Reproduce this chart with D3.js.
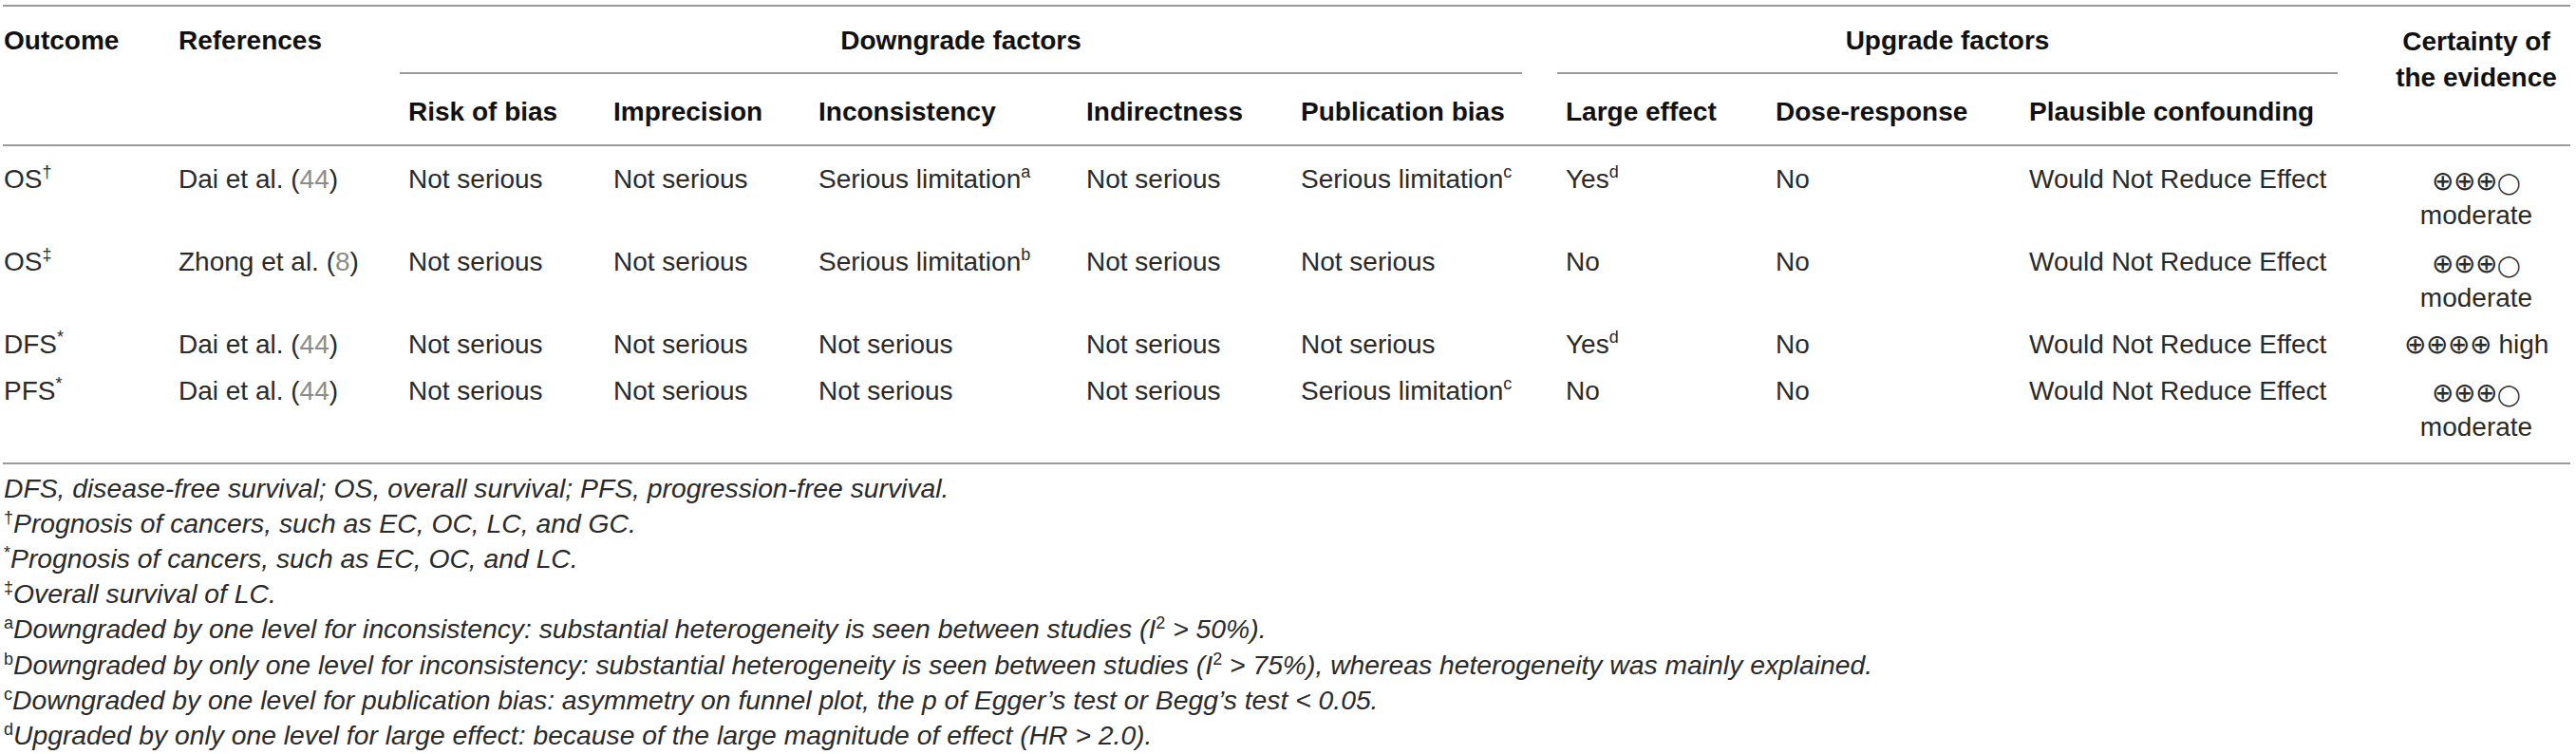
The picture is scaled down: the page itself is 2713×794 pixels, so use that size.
<!DOCTYPE html>
<html>
<head>
<meta charset="utf-8">
<script src="https://cdn.jsdelivr.net/npm/d3@7"></script>
<style>
  body { margin: 0; background: #fff; }
  svg text { font-family: "Liberation Sans", Arial, Helvetica, sans-serif; }
</style>
</head>
<body>
<svg id="table"></svg>
<script>
// table content
const groupHeaders = ["Downgrade factors", "Upgrade factors"];
const subHeaders = ["Risk of bias", "Imprecision", "Inconsistency", "Indirectness", "Publication bias",
  "Large effect", "Dose-response", "Plausible confounding"];
const outcomes = ["OS", "OS", "DFS", "PFS"];
const outcomeMarks = ["†", "‡", "*", "*"];
const references = ["Dai et al.", "Zhong et al.", "Dai et al.", "Dai et al."];
const refNumbers = ["44", "8", "44", "44"];
const riskOfBias = ["Not serious", "Not serious", "Not serious", "Not serious"];
const imprecision = ["Not serious", "Not serious", "Not serious", "Not serious"];
const inconsistency = ["Serious limitation", "Serious limitation", "Not serious", "Not serious"];
const inconsistencyNotes = ["a", "b", "", ""];
const indirectness = ["Not serious", "Not serious", "Not serious", "Not serious"];
const publicationBias = ["Serious limitation", "Not serious", "Not serious", "Serious limitation"];
const publicationNotes = ["c", "", "", "c"];
const largeEffect = ["Yes", "No", "Yes", "No"];
const largeEffectNotes = ["d", "", "d", ""];
const doseResponse = ["No", "No", "No", "No"];
const confounding = ["Would Not Reduce Effect", "Would Not Reduce Effect", "Would Not Reduce Effect", "Would Not Reduce Effect"];
const certaintySymbols = ["⊕⊕⊕◯", "⊕⊕⊕◯", "⊕⊕⊕⊕", "⊕⊕⊕◯"];
const certaintyLabels = ["moderate", "moderate", "high", "moderate"];

const footMarks = ["", "†", "*", "‡", "a", "b", "c", "d"];
const footTexts = [
  "DFS, disease-free survival; OS, overall survival; PFS, progression-free survival.",
  "Prognosis of cancers, such as EC, OC, LC, and GC.",
  "Prognosis of cancers, such as EC, OC, and LC.",
  "Overall survival of LC.",
  "Downgraded by one level for inconsistency: substantial heterogeneity is seen between studies (I^2 > 50%).",
  "Downgraded by only one level for inconsistency: substantial heterogeneity is seen between studies (I^2 > 75%), whereas heterogeneity was mainly explained.",
  "Downgraded by one level for publication bias: asymmetry on funnel plot, the p of Egger’s test or Begg’s test < 0.05.",
  "Upgraded by only one level for large effect: because of the large magnitude of effect (HR > 2.0)."
];

// layout
const width = 2713, height = 794;
const fs = 28, supFs = 18, lineH = 38;
const textColor = "#2a2a2a", ruleColor = "#9a9a9a";

const colKeys = ["outcome", "ref", ...subHeaders];
const x = d3.scaleOrdinal()
  .domain(colKeys)
  .range([4, 188, 430, 646, 862, 1144, 1370, 1649, 1870, 2137]);
const certaintyX = 2608;
const tableLeft = 3, tableRight = 2707;

const svg = d3.select("#table").attr("width", width).attr("height", height);
svg.append("rect").attr("width", width).attr("height", height).attr("fill", "#fff");

const rule = (x1, x2, y) => svg.append("line")
  .attr("x1", x1).attr("x2", x2).attr("y1", y).attr("y2", y)
  .attr("stroke", ruleColor).attr("stroke-width", 2);

// text with an optional trailing superscript
function cell(g, xPos, y, text, sup, opts = {}) {
  const t = g.append("text").attr("x", xPos).attr("y", y)
    .attr("font-size", fs).attr("fill", opts.color || textColor)
    .attr("font-weight", opts.bold ? "bold" : null)
    .attr("text-anchor", opts.anchor || "start");
  t.append("tspan").text(text);
  if (sup) t.append("tspan").attr("dy", -11).attr("font-size", supFs).text(sup);
  return t;
}

// certainty symbols: the empty circle glyph is drawn smaller so it matches ⊕
function symbols(t, str) {
  Array.from(str).forEach(ch => {
    const s = t.append("tspan").text(ch);
    if (ch === "◯") s.attr("font-size", 22);
  });
}

// header
const hdr = svg.append("g");
rule(tableLeft, tableRight, 6);
cell(hdr, x("outcome"), 52, "Outcome", "", { bold: true, color: "#111" });
cell(hdr, x("ref"), 52, "References", "", { bold: true, color: "#111" });
cell(hdr, certaintyX, 53, "Certainty of", "", { bold: true, color: "#111", anchor: "middle" });
cell(hdr, certaintyX, 91, "the evidence", "", { bold: true, color: "#111", anchor: "middle" });

const groupSpans = [
  [x(subHeaders[0]) - 9, x(subHeaders[5]) - 46],
  [x(subHeaders[5]) - 9, certaintyX - 146]
];
groupHeaders.forEach((g, i) => {
  const [a, b] = groupSpans[i];
  cell(hdr, (a + b) / 2, 52, g, "", { bold: true, color: "#111", anchor: "middle" });
  rule(a, b, 77);
});
subHeaders.forEach(h => cell(hdr, x(h), 127, h, "", { bold: true, color: "#111" }));
rule(tableLeft, tableRight, 153);

// body rows
const body = svg.append("g");
const measure = svg.append("text").attr("font-size", fs).attr("visibility", "hidden");
let rowTop = 153;
outcomes.forEach((o, i) => {
  measure.text(certaintySymbols[i] + " " + certaintyLabels[i]);
  const wrap = measure.node().getComputedTextLength() > 185;
  const nLines = wrap ? 2 : 1;
  const y = rowTop + 45;

  cell(body, x("outcome"), y, o, outcomeMarks[i]);
  const r = body.append("text").attr("x", x("ref")).attr("y", y)
    .attr("font-size", fs).attr("fill", textColor);
  r.append("tspan").text(references[i] + " (");
  r.append("tspan").attr("fill", "#8c8c8c").text(refNumbers[i]);
  r.append("tspan").text(")");

  cell(body, x(subHeaders[0]), y, riskOfBias[i]);
  cell(body, x(subHeaders[1]), y, imprecision[i]);
  cell(body, x(subHeaders[2]), y, inconsistency[i], inconsistencyNotes[i]);
  cell(body, x(subHeaders[3]), y, indirectness[i]);
  cell(body, x(subHeaders[4]), y, publicationBias[i], publicationNotes[i]);
  cell(body, x(subHeaders[5]), y, largeEffect[i], largeEffectNotes[i]);
  cell(body, x(subHeaders[6]), y, doseResponse[i]);
  cell(body, x(subHeaders[7]), y, confounding[i]);

  const c = body.append("text").attr("x", certaintyX).attr("y", wrap ? y + 2 : y)
    .attr("font-size", fs).attr("fill", textColor).attr("text-anchor", "middle");
  symbols(c, certaintySymbols[i]);
  if (wrap) {
    cell(body, certaintyX, y + lineH, certaintyLabels[i], "", { anchor: "middle" });
  } else {
    c.append("tspan").text(" " + certaintyLabels[i]);
  }
  rowTop += 49 + lineH * (nLines - 1);
});
measure.remove();
const bottomY = rowTop + 25;
rule(tableLeft, tableRight, bottomY);

// footnotes
const foot = svg.append("g");
footTexts.forEach((txt, i) => {
  const t = foot.append("text").attr("x", 4).attr("y", bottomY + 36 + i * 37.1)
    .attr("font-size", 28.3).attr("fill", textColor);
  if (footMarks[i]) t.append("tspan").attr("font-size", supFs).attr("dy", -10).text(footMarks[i]);
  const parts = txt.split("^");
  parts.forEach((p, k) => {
    if (k === 0) {
      t.append("tspan").attr("font-style", "italic").attr("dy", footMarks[i] ? 10 : 0).text(p);
    } else {
      t.append("tspan").attr("font-size", supFs).attr("dy", -10).text(p[0]);
      t.append("tspan").attr("font-style", "italic").attr("dy", 10).text(p.slice(1));
    }
  });
});
</script>
</body>
</html>
